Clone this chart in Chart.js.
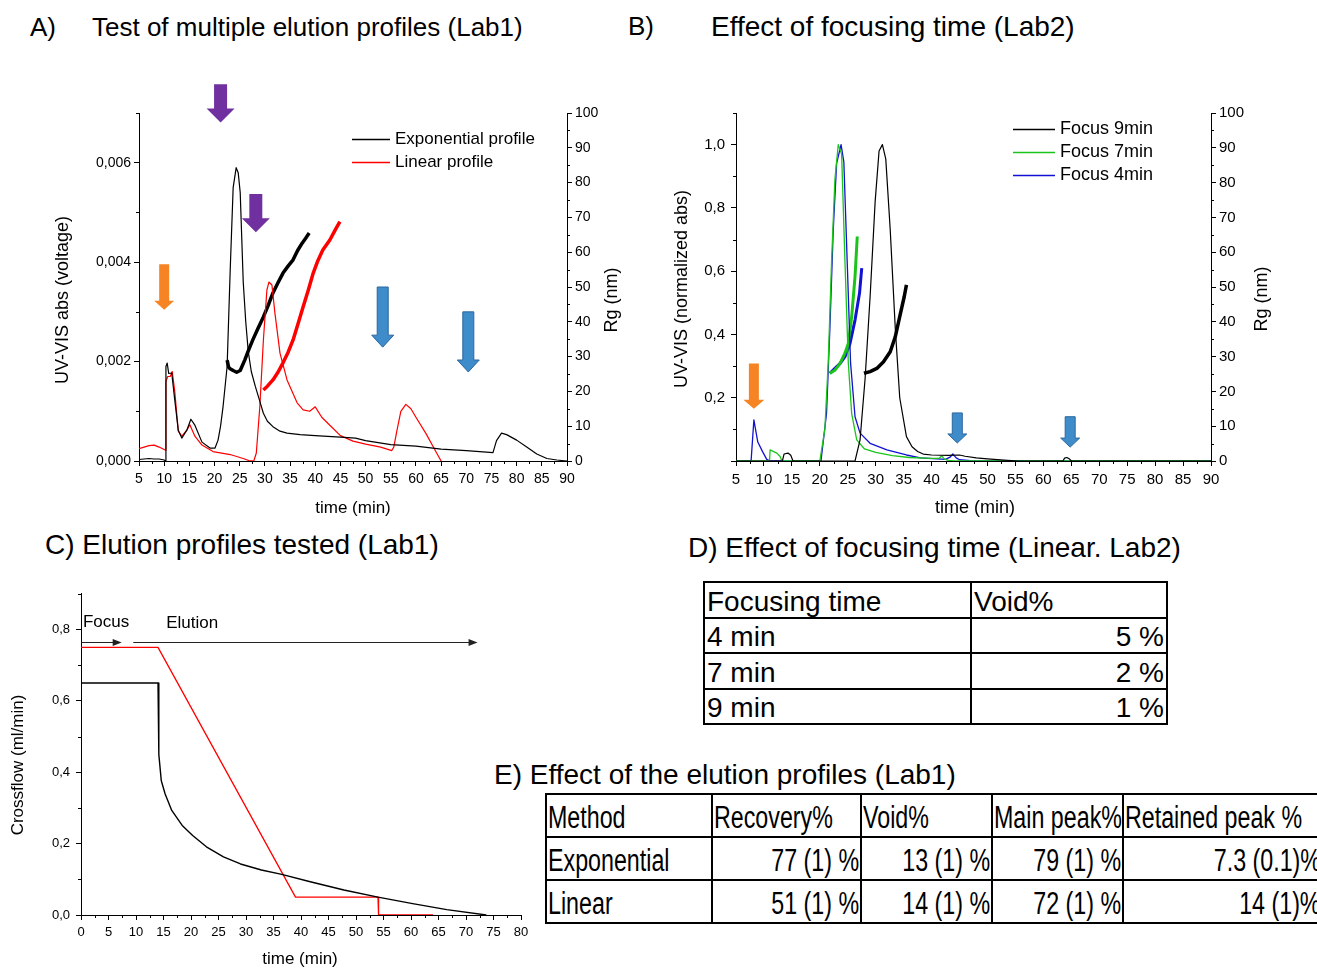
<!DOCTYPE html>
<html>
<head>
<meta charset="utf-8">
<script src="https://cdn.jsdelivr.net/npm/chart.js@4.4.0/dist/chart.umd.min.js"></script>
<style>
  body { margin: 0; background: #fff; width: 1317px; height: 968px; overflow: hidden; position: relative;
         font-family: "Liberation Sans", Arial, sans-serif; color: #000; }
  canvas { position: absolute; }
  .head { position: absolute; white-space: nowrap; line-height: 1; }
  table { position: absolute; border-collapse: collapse; table-layout: fixed; }
  td { border: 2px solid #000; padding: 0 2px; vertical-align: bottom; white-space: nowrap; overflow: visible; }
  #tableD { width: 463px; }
  #tableD tr { height: 35.5px; }
  #tableD td { font-size: 28px; line-height: 30px; }
  #tableE { width: 777px; }
  #tableE tr { height: 43px; }
  #tableE td { font-size: 31px; line-height: 37px; padding: 0 1px; }
  /* narrow lettering for table E */
  #tableE span { display: inline-block; transform: scaleX(0.75); transform-origin: left center; }
  #tableE td.num span { transform-origin: right center; }
  td.num { text-align: right; }
</style>
</head>
<body>

<div class="head" style="left:30px; top:14px; font-size:26px">A)</div>
<div class="head" style="left:92px; top:14px; font-size:26px">Test of multiple elution profiles (Lab1)</div>
<div class="head" style="left:628px; top:13px; font-size:26px">B)</div>
<div class="head" style="left:711px; top:13px; font-size:28px">Effect of focusing time (Lab2)</div>
<div class="head" style="left:45px; top:531px; font-size:28px">C) Elution profiles tested (Lab1)</div>
<div class="head" style="left:688px; top:534px; font-size:28px">D) Effect of focusing time (Linear. Lab2)</div>
<div class="head" style="left:494px; top:761px; font-size:28px">E) Effect of the elution profiles (Lab1)</div>

<canvas id="chartA" width="640" height="470" style="left:0; top:60px"></canvas>
<canvas id="chartB" width="677" height="470" style="left:640px; top:60px"></canvas>
<canvas id="chartC" width="540" height="388" style="left:0; top:580px"></canvas>

<table id="tableD" style="left:703px; top:581px"><colgroup><col style="width:267px"><col style="width:196px"></colgroup></table>
<table id="tableE" style="left:545px; top:793px"><colgroup><col style="width:166px"><col style="width:149px"><col style="width:131px"><col style="width:131px"><col style="width:200px"></colgroup></table>

<script>
const FONT = '"Liberation Sans", Arial, sans-serif';

// ---- A) UV-VIS traces (voltage) and Rg (nm) for the two elution profiles ----
const expUV = [[5,0.00003],[6,0.00004],[7,0.00005],[8,0.00004],[9,0.00004],[10,0.00002],[10.25,0],[10.35,0.0019],
  [10.6,0.00197],[10.9,0.00176],[11.5,0.00177],[12.1,0.00123],[12.8,0.00062],[13.5,0.00046],[14.5,0.00062],
  [15.3,0.00084],[16.1,0.00072],[17.5,0.00038],[19.1,0.00026],[20.1,0.00026],[20.7,0.00042],[21.2,0.0007],
  [21.7,0.0011],[22.5,0.0019],[23.1,0.0038],[23.7,0.0055],[24.3,0.0059],[24.7,0.0058],[25.1,0.0054],[25.7,0.0036],
  [26.2,0.0028],[26.7,0.0022],[27.3,0.0018],[28.1,0.0015],[29,0.0012],[29.7,0.00096],[30.5,0.0008],[31.6,0.00069],
  [33,0.0006],[34.4,0.00056],[37,0.00053],[40,0.00051],[45,0.00048],[48,0.00046],[50,0.00041],[55,0.00033],
  [60,0.0003],[65,0.00024],[70,0.00021],[75.3,0.00017],[76,0.00041],[77,0.00056],[78,0.00053],[80,0.00042],
  [82,0.00028],[84,0.00014],[86,0.00005],[88,0.00002],[90,0]];
const linUV = [[5,0.00025],[6,0.00028],[7,0.00031],[8,0.00032],[9,0.00028],[10.2,0.00022],[10.35,0.0016],[10.7,0.0017],
  [11.2,0.0017],[11.6,0.0018],[12.1,0.0014],[12.8,0.0006],[13.5,0.0005],[14.5,0.00062],[15.1,0.00073],[16.1,0.0005],
  [17.5,0.00032],[19.7,0.00019],[23.1,0.00013],[25.7,0.00005],[26.8,0.00001],[27.8,0],[28.3,0.00016],[29,0.0011],
  [29.7,0.00243],[30.4,0.00344],[30.8,0.0036],[31.4,0.00354],[32,0.00297],[33,0.00217],[34.4,0.00163],[36.4,0.00117],
  [37.6,0.00103],[38.9,0.001],[40,0.00109],[41.3,0.00088],[42.9,0.00072],[45,0.00051],[47.5,0.0004],[50,0.00034],
  [53,0.00028],[55.2,0.00021],[55.6,0.00028],[56.2,0.0006],[57,0.001],[58,0.00114],[59,0.00105],[60,0.00088],
  [62,0.00055],[64,0.00018],[65,0]];
const expRg = [[22.5,29],[22.8,27],[23.1,26.5],[23.7,26],[24.4,25.5],[25.1,26],[26,29],[26.8,32],[27.6,34.8],[28.6,38],
  [29.7,41.4],[30.6,44.5],[31.6,48.3],[32.6,51.2],[33.6,54],[34.6,56],[35.6,57.8],[36.5,60.5],[37.4,62.6],[38.1,64],
  [38.8,65.5]];
const linRg = [[29.7,20.4],[30.5,21.5],[31.6,23.3],[32.6,25.5],[33.6,28.2],[34.6,31.2],[35.6,34.8],[36.6,39.5],
  [37.6,44.3],[38.6,49],[39.6,54],[40.5,57.5],[41.5,60.6],[42.9,63.5],[44,66.5],[44.9,68.8]];

// ---- B) normalized UV-VIS and Rg for three focusing times ----
const focus9UV = [[5,0],[13.3,0],[13.6,0.022],[14.3,0.025],[14.8,0.018],[15.2,0],[26.3,0],[27.2,0.067],[28.1,0.26],
  [29,0.52],[29.9,0.82],[30.6,0.98],[31.2,1.0],[31.8,0.955],[32.6,0.73],[33.5,0.42],[34.3,0.2],[35.5,0.077],
  [36.5,0.045],[37.5,0.03],[38.5,0.022],[40,0.019],[43,0.018],[45,0.019],[46,0.015],[48,0.01],[50,0.007],[53,0.003],
  [55.5,0],[63.5,0],[63.8,0.009],[64.2,0.011],[64.7,0.006],[65,0],[90,0]];
const focus7UV = [[5,0],[11,0],[11.1,0.035],[12.3,0.025],[12.9,0.014],[13.2,0],[20,0],[20.9,0.1],[21.5,0.31],
  [22.1,0.63],[22.7,0.89],[23.3,1.0],[23.9,0.97],[24.5,0.63],[25.1,0.31],[25.7,0.15],[26.6,0.067],[28,0.038],
  [30,0.027],[33,0.017],[36,0.011],[40,0.008],[41.3,0.008],[41.8,0.016],[42.3,0.006],[43,0.002],[44,0],[90,0]];
const focus4UV = [[5,0],[7.7,0],[8.2,0.13],[8.9,0.06],[9.8,0.028],[10.5,0.005],[11.1,0],[20.2,0],[21.2,0.15],
  [21.8,0.42],[22.4,0.73],[23,0.94],[23.8,1.0],[24.3,0.945],[24.9,0.63],[25.5,0.31],[26.3,0.14],[27.2,0.088],
  [29,0.056],[32,0.035],[35.5,0.019],[38,0.01],[42.5,0.005],[43.3,0.012],[43.8,0.022],[44.4,0.01],[45,0.004],
  [47,0.001],[48,0],[90,0]];
const focus7Rg = [[21.8,25.2],[22.7,26.1],[23.6,28],[24.5,31],[25.1,33.8],[25.7,41.5],[26.3,53],[26.7,64.5]];
const focus4Rg = [[21.8,25.2],[22.7,26.6],[23.6,28],[24.5,30],[25.4,33.8],[26.3,40.5],[27.1,48.2],[27.5,55.4]];
const focus9Rg = [[27.9,25.2],[29,25.7],[30.2,26.6],[31.4,28.5],[32.6,31.4],[33.5,35.7],[34.3,41.5],[35.1,47.2],[35.5,50.6]];

// ---- C) crossflow programmes ----
const expFlow = [[0,0.65],[14,0.65],[14.15,0.45],[14.6,0.376],[15.3,0.339],[16.5,0.293],[18.4,0.251],[20.3,0.223],
  [22.8,0.191],[25.9,0.163],[29,0.143],[32.8,0.126],[36.5,0.114],[41.5,0.094],[47.8,0.07],[54,0.05],[60.3,0.032],
  [66.5,0.015],[73.7,0]];
const linFlow = [[0,0.75],[14,0.75],[39,0.05],[54,0.05],[54.1,0],[64,0]];

// ---- tick values ----
const timeTicks = [5,10,15,20,25,30,35,40,45,50,55,60,65,70,75,80,85,90];
const timeMinor = [7.5,12.5,17.5,22.5,27.5,32.5,37.5,42.5,47.5,52.5,57.5,62.5,67.5,72.5,77.5,82.5,87.5];
const voltTicks = [0,0.002,0.004,0.006];
const voltMinor = [0.001,0.003,0.005,0.007];
const rgTicks = [0,10,20,30,40,50,60,70,80,90,100];
const rgMinor = [5,15,25,35,45,55,65,75,85,95];
const normTicks = [0,0.2,0.4,0.6,0.8,1.0];
const normMinor = [0.1,0.3,0.5,0.7,0.9,1.1];
const flowTimeTicks = [0,5,10,15,20,25,30,35,40,45,50,55,60,65,70,75,80];
const flowTimeMinor = [2.5,7.5,12.5,17.5,22.5,27.5,32.5,37.5,42.5,47.5,52.5,57.5,62.5,67.5,72.5,77.5];
const flowTicks = [0,0.2,0.4,0.6,0.8];
const flowMinor = [0.1,0.3,0.5,0.7,0.9];

// ---- tables ----
const focusTimes = ['4 min', '7 min', '9 min'];
const focusVoid = ['5 %', '2 %', '1 %'];
const methodNames = ['Exponential', 'Linear'];
const recoveryPct = ['77 (1) %', '51 (1) %'];
const methodVoid = ['13 (1) %', '14 (1) %'];
const mainPeakPct = ['79 (1) %', '72 (1) %'];
const retainedPct = ['7.3 (0.1)%', '14 (1)%'];

// marker arrows, positioned in axis units
const arrowsA = [
  { kind: 'orangeA', x: 10.0, from: 0.00396, to: 0.00304 },
  { kind: 'purple', x: 21.2, from: 0.00758, to: 0.00681 },
  { kind: 'purple', x: 28.2, from: 0.00537, to: 0.0046 },
  { kind: 'blueA', x: 53.4, from: 0.0035, to: 0.00229 },
  { kind: 'blueA', x: 70.4, from: 0.0030, to: 0.00179 },
];
const arrowsB = [
  { kind: 'orangeB', x: 8.2, from: 0.308, to: 0.165 },
  { kind: 'blueB', x: 44.6, from: 0.152, to: 0.057 },
  { kind: 'blueB', x: 64.8, from: 0.14, to: 0.044 },
];
const phasesC = [
  { text: 'Focus', from: 0, to: 7.4, y: 0.766, textX: 0.35, textY: 0.819 },
  { text: 'Elution', from: 9.5, to: 72.1, y: 0.766, textX: 15.5, textY: 0.817 },
];

const arrowStyles = {
  orangeA: { shaft: 10, head: 20, headLen: 9, fill: '#F68424' },
  purple:  { shaft: 13, head: 28, headLen: 14, fill: '#7030A0' },
  blueA:   { shaft: 11, head: 22, headLen: 12, fill: '#3F8CCB', line: '#2B679E' },
  orangeB: { shaft: 10, head: 21, headLen: 9, fill: '#F68424' },
  blueB:   { shaft: 10, head: 19, headLen: 9, fill: '#3F8CCB', line: '#2B679E' },
};

const comma = d => v => v.toFixed(d).replace('.', ',');

function lineSet(label, points, color, width, axisId) {
  return {
    label: label,
    yAxisID: axisId,
    data: points.map(p => ({ x: p[0], y: p[1] })),
    borderColor: color,
    borderWidth: width,
    borderJoinStyle: 'round',
    pointRadius: 0,
    tension: 0,
    fill: false,
  };
}

function axis(o) {
  return {
    type: 'linear',
    position: o.position,
    min: o.min,
    max: o.max,
    afterBuildTicks: s => { s.ticks = o.ticks.map(v => ({ value: v })); },
    afterFit: s => { if (s.isHorizontal()) s.height = o.size; else s.width = o.size; },
    border: { display: true, color: '#000', width: 1 },
    grid: { drawOnChartArea: false, drawTicks: true, tickLength: 5, tickWidth: 1, tickColor: '#000' },
    ticks: {
      autoSkip: false, maxRotation: 0, padding: o.pad, color: '#000',
      font: { family: FONT, size: o.fontSize },
      callback: o.format || (v => String(v)),
    },
  };
}

// short unlabelled ticks between the labelled ones
function minorTicks(map) {
  return {
    id: 'minorTicks',
    afterDraw(chart) {
      const ctx = chart.ctx;
      ctx.save();
      ctx.strokeStyle = '#000';
      ctx.lineWidth = 1;
      ctx.beginPath();
      Object.keys(map).forEach(id => {
        const s = chart.scales[id];
        map[id].forEach(v => {
          const p = Math.round(s.getPixelForValue(v)) + 0.5;
          if (s.isHorizontal()) { ctx.moveTo(p, s.top); ctx.lineTo(p, s.top + 3); }
          else if (s.position === 'left') { ctx.moveTo(s.right, p); ctx.lineTo(s.right - 3, p); }
          else { ctx.moveTo(s.left, p); ctx.lineTo(s.left + 3, p); }
        });
      });
      ctx.stroke();
      ctx.restore();
    }
  };
}

function blockArrows(items) {
  return {
    id: 'blockArrows',
    afterDatasetsDraw(chart) {
      const ctx = chart.ctx;
      const xs = chart.scales.x, ys = chart.scales.y;
      items.forEach(a => {
        const st = arrowStyles[a.kind];
        const x = xs.getPixelForValue(a.x);
        const top = ys.getPixelForValue(a.from);
        const tip = ys.getPixelForValue(a.to);
        const base = tip - st.headLen;
        ctx.save();
        ctx.beginPath();
        ctx.moveTo(x - st.shaft / 2, top);
        ctx.lineTo(x + st.shaft / 2, top);
        ctx.lineTo(x + st.shaft / 2, base);
        ctx.lineTo(x + st.head / 2, base);
        ctx.lineTo(x, tip);
        ctx.lineTo(x - st.head / 2, base);
        ctx.lineTo(x - st.shaft / 2, base);
        ctx.closePath();
        ctx.fillStyle = st.fill;
        ctx.fill();
        if (st.line) { ctx.strokeStyle = st.line; ctx.lineWidth = 1; ctx.stroke(); }
        ctx.restore();
      });
    }
  };
}

function phaseArrows(items) {
  return {
    id: 'phaseArrows',
    afterDatasetsDraw(chart) {
      const ctx = chart.ctx;
      const xs = chart.scales.x, ys = chart.scales.y;
      ctx.save();
      ctx.lineWidth = 1;
      items.forEach(p => {
        const y = Math.round(ys.getPixelForValue(p.y)) + 0.5;
        const x0 = xs.getPixelForValue(p.from), x1 = xs.getPixelForValue(p.to);
        ctx.strokeStyle = '#222';
        ctx.fillStyle = '#222';
        ctx.beginPath();
        ctx.moveTo(x0, y);
        ctx.lineTo(x1 - 6, y);
        ctx.stroke();
        ctx.beginPath();
        ctx.moveTo(x1, y);
        ctx.lineTo(x1 - 9, y - 3.5);
        ctx.lineTo(x1 - 9, y + 3.5);
        ctx.closePath();
        ctx.fill();
        ctx.font = '17px ' + FONT;
        ctx.fillStyle = '#000';
        ctx.textBaseline = 'middle';
        ctx.fillText(p.text, xs.getPixelForValue(p.textX), ys.getPixelForValue(p.textY));
      });
      ctx.restore();
    }
  };
}

function axisTitles(items) {
  return {
    id: 'axisTitles',
    afterDraw(chart) {
      const ctx = chart.ctx;
      items.forEach(t => {
        ctx.save();
        ctx.translate(t.x, t.y);
        if (t.vertical) ctx.rotate(-Math.PI / 2);
        ctx.font = t.size + 'px ' + FONT;
        ctx.fillStyle = '#000';
        ctx.textAlign = 'center';
        ctx.textBaseline = 'middle';
        ctx.fillText(t.text, 0, 0);
        ctx.restore();
      });
    }
  };
}

// legend entries for the UV traces only
function lineLegend(cfg) {
  return {
    id: 'lineLegend',
    afterDraw(chart) {
      const ctx = chart.ctx;
      const sets = chart.data.datasets.filter(d => d.yAxisID === 'y');
      ctx.save();
      ctx.font = cfg.size + 'px ' + FONT;
      ctx.textBaseline = 'middle';
      sets.forEach((d, i) => {
        const y = Math.round(cfg.y + i * cfg.step) + 0.5;
        ctx.strokeStyle = d.borderColor;
        ctx.lineWidth = 1.3;
        ctx.beginPath();
        ctx.moveTo(cfg.x, y);
        ctx.lineTo(cfg.x + cfg.len, y);
        ctx.stroke();
        ctx.fillStyle = '#000';
        ctx.fillText(d.label, cfg.x + cfg.len + 5, y);
      });
      ctx.restore();
    }
  };
}

const baseOptions = padding => ({
  responsive: false,
  animation: false,
  events: [],
  layout: { padding: padding },
  plugins: { legend: { display: false }, tooltip: { enabled: false } },
});

new Chart(document.getElementById('chartA'), {
  type: 'line',
  data: {
    datasets: [
      lineSet('Exponential profile', expUV, '#000000', 1.2, 'y'),
      lineSet('Linear profile', linUV, '#FF0000', 1.2, 'y'),
      lineSet('', expRg, '#000000', 3.5, 'y1'),
      lineSet('', linRg, '#FF0000', 3.5, 'y1'),
    ]
  },
  options: Object.assign(baseOptions({ top: 53, right: 0, bottom: 0, left: 0 }), {
    scales: {
      x: axis({ position: 'bottom', min: 5, max: 90, ticks: timeTicks, size: 69, fontSize: 14, pad: 5 }),
      y: axis({ position: 'left', min: 0, max: 0.007, ticks: voltTicks, size: 139, fontSize: 14, pad: 3, format: comma(3) }),
      y1: axis({ position: 'right', min: 0, max: 100, ticks: rgTicks, size: 73, fontSize: 14, pad: 3 }),
    }
  }),
  plugins: [
    minorTicks({ x: timeMinor, y: voltMinor, y1: rgMinor }),
    blockArrows(arrowsA),
    axisTitles([
      { text: 'UV-VIS abs (voltage)', x: 63, y: 240, vertical: true, size: 18 },
      { text: 'Rg (nm)', x: 612, y: 240, vertical: true, size: 18 },
      { text: 'time (min)', x: 353, y: 448, size: 17 },
    ]),
    lineLegend({ x: 352, y: 79, step: 23, len: 38, size: 17 }),
  ]
});

new Chart(document.getElementById('chartB'), {
  type: 'line',
  data: {
    datasets: [
      lineSet('Focus 9min', focus9UV, '#000000', 1.2, 'y'),
      lineSet('Focus 7min', focus7UV, '#1BC41B', 1.3, 'y'),
      lineSet('Focus 4min', focus4UV, '#1212D4', 1.3, 'y'),
      lineSet('', focus7Rg, '#1BC41B', 3, 'y1'),
      lineSet('', focus4Rg, '#1212D4', 3, 'y1'),
      lineSet('', focus9Rg, '#000000', 3.5, 'y1'),
    ]
  },
  options: Object.assign(baseOptions({ top: 53, right: 0, bottom: 0, left: 0 }), {
    scales: {
      x: axis({ position: 'bottom', min: 5, max: 90, ticks: timeTicks, size: 69, fontSize: 15, pad: 5 }),
      y: axis({ position: 'left', min: 0, max: 1.1, ticks: normTicks, size: 96, fontSize: 15, pad: 6,
                format: v => v === 0 ? '' : comma(1)(v) }),
      y1: axis({ position: 'right', min: 0, max: 100, ticks: rgTicks, size: 106, fontSize: 15, pad: 3 }),
    }
  }),
  plugins: [
    minorTicks({ x: timeMinor, y: normMinor, y1: rgMinor }),
    blockArrows(arrowsB),
    axisTitles([
      { text: 'UV-VIS (normalized abs)', x: 42, y: 229, vertical: true, size: 18 },
      { text: 'Rg (nm)', x: 622, y: 239, vertical: true, size: 18 },
      { text: 'time (min)', x: 335, y: 448, size: 18 },
    ]),
    lineLegend({ x: 373, y: 69, step: 23, len: 42, size: 18 }),
  ]
});

new Chart(document.getElementById('chartC'), {
  type: 'line',
  data: {
    datasets: [
      lineSet('Exponential', expFlow, '#000000', 1.4, 'y'),
      lineSet('Linear', linFlow, '#FF0000', 1.3, 'y'),
    ]
  },
  options: Object.assign(baseOptions({ top: 12, right: 19, bottom: 0, left: 0 }), {
    scales: {
      x: axis({ position: 'bottom', min: 0, max: 80, ticks: flowTimeTicks, size: 53, fontSize: 13, pad: 5 }),
      y: axis({ position: 'left', min: 0, max: 0.9, ticks: flowTicks, size: 81, fontSize: 13, pad: 6, format: comma(1) }),
    }
  }),
  plugins: [
    minorTicks({ x: flowTimeMinor, y: flowMinor }),
    phaseArrows(phasesC),
    axisTitles([
      { text: 'Crossflow (ml/min)', x: 18, y: 185, vertical: true, size: 17 },
      { text: 'time (min)', x: 300, y: 379, size: 17 },
    ]),
  ]
});

// tables D and E
function fillTable(id, header, columns, numeric) {
  const table = document.getElementById(id);
  const rows = [header];
  columns[0].forEach((_, r) => rows.push(columns.map(c => c[r])));
  rows.forEach((cells, r) => {
    const tr = document.createElement('tr');
    cells.forEach((text, c) => {
      const td = document.createElement('td');
      const span = document.createElement('span');
      span.textContent = text;
      td.appendChild(span);
      if (r > 0 && numeric[c]) td.className = 'num';
      tr.appendChild(td);
    });
    table.appendChild(tr);
  });
}

fillTable('tableD', ['Focusing time', 'Void%'], [focusTimes, focusVoid], [false, true]);
fillTable('tableE', ['Method', 'Recovery%', 'Void%', 'Main peak%', 'Retained peak %'],
  [methodNames, recoveryPct, methodVoid, mainPeakPct, retainedPct], [false, true, true, true, true]);
</script>
</body>
</html>
